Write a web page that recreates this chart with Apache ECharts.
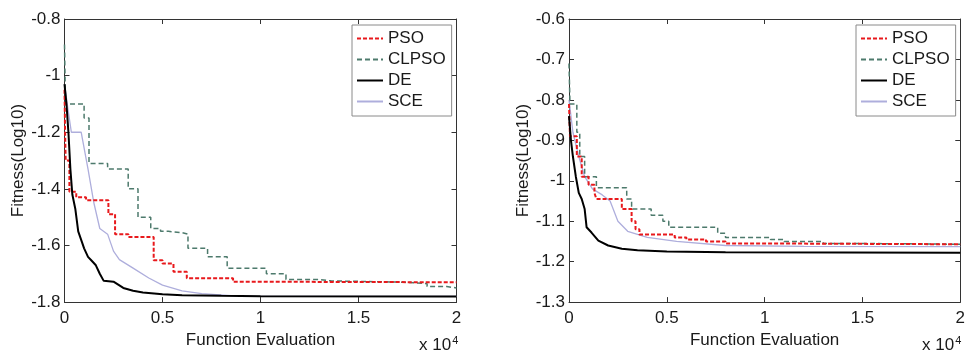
<!DOCTYPE html>
<html><head><meta charset="utf-8">
<script src="https://cdn.jsdelivr.net/npm/echarts@6/dist/echarts.min.js"></script>
<style>html,body{margin:0;padding:0;background:#fff}#c{width:968px;height:354px}</style>
</head><body><div id="c"></div>
<script>
// Legend / series names
const seriesNames = ['PSO', 'CLPSO', 'DE', 'SCE'];
// x values in units of 10^4 function evaluations
const xTicks = [0, 0.5, 1, 1.5, 2];

// Left panel
const leftPSO = [[0,-1.05],[0.003,-1.2],[0.006,-1.3],[0.025,-1.41],[0.06,-1.43],[0.11,-1.44],[0.224,-1.49],[0.258,-1.56],[0.326,-1.57],[0.455,-1.652],[0.5,-1.664],[0.556,-1.693],[0.624,-1.716],[0.86,-1.728],[1.0,-1.73],[2,-1.73]];
const leftCLPSO = [[0,-0.89],[0.005,-1.1],[0.1,-1.15],[0.125,-1.31],[0.22,-1.33],[0.325,-1.40],[0.375,-1.50],[0.44,-1.54],[0.49,-1.55],[0.53,-1.555],[0.6,-1.56],[0.63,-1.61],[0.73,-1.64],[0.83,-1.68],[1.03,-1.70],[1.13,-1.72],[1.3,-1.725],[1.36,-1.73],[1.75,-1.735],[1.85,-1.745],[1.95,-1.75],[2,-1.752]];
const leftDE = [[0,-1.03],[0.01,-1.1],[0.02,-1.2],[0.03,-1.33],[0.04,-1.42],[0.055,-1.47],[0.07,-1.55],[0.09,-1.59],[0.1,-1.61],[0.12,-1.64],[0.14,-1.655],[0.16,-1.67],[0.18,-1.70],[0.2,-1.725],[0.25,-1.728],[0.3,-1.75],[0.35,-1.76],[0.4,-1.766],[0.5,-1.772],[0.6,-1.776],[0.8,-1.778],[1.0,-1.779],[2,-1.78]];
const leftSCE = [[0,-1.03],[0.02,-1.13],[0.035,-1.2],[0.085,-1.2],[0.12,-1.33],[0.15,-1.45],[0.18,-1.54],[0.22,-1.56],[0.25,-1.62],[0.28,-1.65],[0.35,-1.68],[0.43,-1.715],[0.5,-1.74],[0.6,-1.76],[0.7,-1.77],[0.85,-1.777],[1.0,-1.78],[2,-1.78]];

// Right panel
const rightPSO = [[0,-0.81],[0.005,-0.89],[0.04,-0.94],[0.065,-0.99],[0.1,-1.01],[0.13,-1.03],[0.14,-1.045],[0.27,-1.07],[0.32,-1.10],[0.34,-1.12],[0.36,-1.133],[0.54,-1.14],[0.6,-1.145],[0.7,-1.15],[0.8,-1.155],[1.0,-1.157],[2,-1.157]];
const rightCLPSO = [[0,-0.71],[0.005,-0.81],[0.04,-0.88],[0.055,-0.94],[0.08,-0.99],[0.14,-1.017],[0.295,-1.045],[0.32,-1.07],[0.42,-1.085],[0.48,-1.10],[0.51,-1.115],[0.76,-1.13],[0.8,-1.14],[1.03,-1.145],[1.1,-1.15],[1.3,-1.155],[1.5,-1.157],[2,-1.157]];
const rightDE = [[0,-0.84],[0.01,-0.9],[0.02,-0.94],[0.035,-0.99],[0.05,-1.03],[0.065,-1.045],[0.08,-1.07],[0.09,-1.115],[0.115,-1.128],[0.15,-1.148],[0.2,-1.16],[0.27,-1.168],[0.35,-1.172],[0.5,-1.175],[0.8,-1.177],[2,-1.178]];
const rightSCE = [[0,-0.80],[0.02,-0.88],[0.05,-0.94],[0.08,-0.99],[0.12,-1.02],[0.17,-1.035],[0.21,-1.05],[0.25,-1.10],[0.3,-1.125],[0.4,-1.14],[0.55,-1.15],[0.8,-1.16],[1.2,-1.162],[2,-1.163]];

const leftY = {min: -1.8, max: -0.8, interval: 0.2};
const rightY = {min: -1.3, max: -0.6, interval: 0.1};

const FONT = 'Liberation Sans, Arial, sans-serif';
const TXT = '#1a1a1a';
const fmt = v => String(+(+v).toFixed(2));

const styles = {
  PSO: {color: '#e8191c', width: 2, type: [4, 2], step: 'end'},
  CLPSO: {color: '#4d7a6c', width: 1.5, type: [5, 3], step: 'end'},
  DE: {color: '#000000', width: 2, type: 'solid', step: false},
  SCE: {color: '#aeaedc', width: 1.3, type: 'solid', step: false}
};

const grids = [
  {left: 64.5, top: 19, width: 392, height: 287},
  {left: 569, top: 19, width: 393, height: 287}
];

const xAxes = [], yAxes = [], series = [];
[leftY, rightY].forEach((yr, gi) => {
  const base = {
    gridIndex: gi, type: 'value', min: 0, max: 2, interval: 0.5,
    axisLine: {show: true, onZero: false, lineStyle: {color: '#333', width: 1}},
    axisTick: {show: true, inside: true, length: 5, lineStyle: {color: '#333'}},
    splitLine: {show: false}
  };
  xAxes.push(Object.assign({}, base, {
    position: 'bottom',
    axisLabel: {fontFamily: FONT, fontSize: 17, color: TXT, margin: 8, formatter: fmt},
    name: 'Function Evaluation', nameLocation: 'middle', nameGap: 29,
    nameTextStyle: {fontFamily: FONT, fontSize: 17, color: TXT}
  }));
  xAxes.push(Object.assign({}, base, {position: 'top', axisLabel: {show: false}}));
  const ybase = {
    gridIndex: gi, type: 'value', min: yr.min, max: yr.max, interval: yr.interval,
    axisLine: {show: true, onZero: false, lineStyle: {color: '#333', width: 1}},
    axisTick: {show: true, inside: true, length: 5, lineStyle: {color: '#333'}},
    splitLine: {show: false}
  };
  yAxes.push(Object.assign({}, ybase, {
    position: 'left',
    axisLabel: {fontFamily: FONT, fontSize: 17, color: TXT, margin: 4, formatter: fmt},
    name: 'Fitness(Log10)', nameLocation: 'middle', nameGap: 36, nameRotate: 90,
    nameTextStyle: {fontFamily: FONT, fontSize: 17, color: TXT}
  }));
  yAxes.push(Object.assign({}, ybase, {position: 'right', axisLabel: {show: false}}));
});

const panels = [
  {PSO: leftPSO, CLPSO: leftCLPSO, DE: leftDE, SCE: leftSCE},
  {PSO: rightPSO, CLPSO: rightCLPSO, DE: rightDE, SCE: rightSCE}
];
// draw order: SCE, CLPSO, PSO, DE on top
const order = ['SCE', 'CLPSO', 'PSO', 'DE'];
panels.forEach((p, gi) => {
  order.forEach(name => {
    const s = styles[name];
    series.push({
      name: name, type: 'line', xAxisIndex: gi * 2, yAxisIndex: gi * 2,
      data: p[name], showSymbol: false, symbol: 'none', step: s.step,
      lineStyle: {color: s.color, width: s.width, type: s.type},
      itemStyle: {color: s.color},
      animation: false, silent: true
    });
  });
});

const legendBase = {
  orient: 'vertical', data: seriesNames, itemWidth: 26, itemHeight: 14, itemGap: 4,
  padding: [5, 6, 6, 4],
  backgroundColor: '#fff', borderColor: '#8a8a8a', borderWidth: 1,
  itemStyle: {opacity: 0},
  textStyle: {fontFamily: FONT, fontSize: 17, color: TXT},
  selectedMode: false
};
const legends = [
  Object.assign({}, legendBase, {left: 352, top: 25}),
  Object.assign({}, legendBase, {left: 856, top: 25})
];

const chart = echarts.init(document.getElementById('c'), null, {renderer: 'canvas'});
chart.setOption({
  backgroundColor: '#fff',
  animation: false,
  grid: grids,
  xAxis: xAxes,
  yAxis: yAxes,
  legend: legends,
  series: series,
  graphic: [
    {type: 'text', left: 419, top: 335, style: {text: '{a|x 10}{b|4}', rich: {a: {fontFamily: FONT, fontSize: 17, fill: TXT}, b: {fontFamily: FONT, fontSize: 11, fill: TXT, verticalAlign: 'top', padding: [0, 0, 10, 1]}}}},
    {type: 'text', left: 922, top: 335, style: {text: '{a|x 10}{b|4}', rich: {a: {fontFamily: FONT, fontSize: 17, fill: TXT}, b: {fontFamily: FONT, fontSize: 11, fill: TXT, verticalAlign: 'top', padding: [0, 0, 10, 1]}}}}
  ]
});
</script></body></html>
